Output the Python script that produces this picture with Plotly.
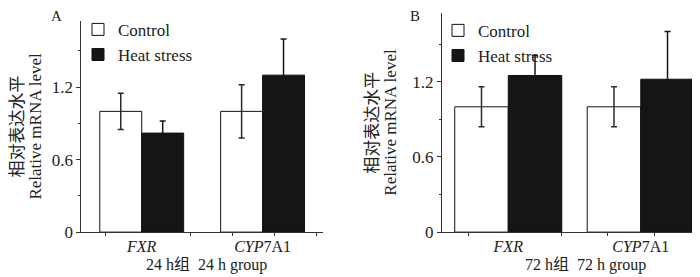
import plotly.graph_objects as go

categories = ["FXR", "CYP7A1"]
tick_text = ["<i>FXR</i>", "<i>CYP</i>7A1"]
series_names = ["Control", "Heat stress"]

# Panel A (24 h)
a_control = [1.00, 1.00]
a_control_err = [0.15, 0.22]
a_heat = [0.82, 1.30]
a_heat_err = [0.10, 0.30]

# Panel B (72 h)
b_control = [1.00, 1.00]
b_control_err = [0.16, 0.16]
b_heat = [1.25, 1.22]
b_heat_err = [0.16, 0.38]

y_ticks = [0, 0.6, 1.2]
x_title_a = "24 h组\u00a0 24 h group"
x_title_b = "72 h组\u00a0 72 h group"
y_title_cn = "相对表达水平"
y_title_en = "Relative mRNA level"

FONT = "Liberation Serif, Times New Roman, Noto Sans CJK SC, serif"
FS = 17
FSX = 16
W, H = 700, 277
xpos = list(range(len(categories)))

fig = go.Figure()

def add_panel(ctrl, ctrl_err, heat, heat_err, bw, xa, ya, legend):
    fig.add_trace(go.Bar(
        x=xpos, y=ctrl, name=series_names[0], width=bw, offset=-bw,
        marker=dict(color="white", line=dict(color="#111", width=1)),
        error_y=dict(type="data", array=ctrl_err, color="#2a2a2a", thickness=1.5, width=3),
        xaxis=xa, yaxis=ya, legend=legend))
    fig.add_trace(go.Bar(
        x=xpos, y=heat, name=series_names[1], width=bw, offset=0,
        marker=dict(color="#151515", line=dict(color="#111", width=1)),
        error_y=dict(type="data", array=heat_err, color="#161616", thickness=1.5, width=3),
        xaxis=xa, yaxis=ya, legend=legend))

add_panel(a_control, a_control_err, a_heat, a_heat_err, 0.347, "x", "y", "legend")
add_panel(b_control, b_control_err, b_heat, b_heat_err, 0.404, "x2", "y2", "legend2")

def px_x(p):
    return p / W

def px_y(p):
    return 1 - p / H

xcommon = dict(
    range=[-0.5, 1.5], showline=True, linecolor="#333", linewidth=1,
    tickmode="array", tickvals=xpos, ticktext=tick_text, ticks="",
    showgrid=False, zeroline=False, fixedrange=True,
    tickfont=dict(size=FSX, color="#222", family=FONT),
    minor=dict(tickmode="array", tickvals=[-0.3, 0.4, 0.75, 1.1, 1.45],
               ticks="outside", ticklen=3, tickcolor="#333", showgrid=False),
    ticklabelstandoff=0,
)
ycommon = dict(
    range=[0, 1.75], showline=True, linecolor="#333", linewidth=1,
    tickmode="array", tickvals=y_ticks, ticktext=["0", "0.6", "1.2"],
    ticks="outside", ticklen=4, tickcolor="#333",
    minor=dict(tickmode="array", tickvals=[0.3, 0.9, 1.5], ticks="outside",
               ticklen=2, tickcolor="#333", showgrid=False),
    showgrid=False, zeroline=False,
    tickfont=dict(size=FS, color="#222", family=FONT),
)

fig.update_layout(
    width=W, height=H,
    margin=dict(l=0, r=0, t=0, b=0),
    paper_bgcolor="white", plot_bgcolor="white",
    barmode="overlay",
    font=dict(family=FONT, size=FS, color="#222"),
    xaxis=dict(domain=[px_x(73.3), px_x(315)], anchor="y", **xcommon),
    yaxis=dict(domain=[px_y(232.5), px_y(13.3)], anchor="x", **ycommon),
    xaxis2=dict(domain=[px_x(434), px_x(699)], anchor="y2", **xcommon),
    yaxis2=dict(domain=[px_y(232.5), px_y(5)], anchor="x2", **ycommon),
    legend=dict(x=px_x(70), y=px_y(4), xanchor="left", yanchor="top",
                bgcolor="rgba(0,0,0,0)", font=dict(size=FS, color="#222"),
                tracegroupgap=0),
    legend2=dict(x=px_x(430), y=px_y(5), xanchor="left", yanchor="top",
                 bgcolor="rgba(0,0,0,0)", font=dict(size=FS, color="#222"),
                 tracegroupgap=0),
    showlegend=True,
)

annots = [
    dict(text="A", x=px_x(48), y=px_y(8), size=15),
    dict(text="B", x=px_x(407), y=px_y(8), size=15),
    dict(text=y_title_cn, x=px_x(10), y=px_y(123), textangle=-90, size=17),
    dict(text=y_title_en, x=px_x(28), y=px_y(123), textangle=-90, size=FS),
    dict(text=y_title_cn, x=px_x(365), y=px_y(119), textangle=-90, size=17),
    dict(text=y_title_en, x=px_x(383), y=px_y(119), textangle=-90, size=FS),
    dict(text=x_title_a, x=px_x(198), y=px_y(267), size=FSX),
    dict(text=x_title_b, x=px_x(577), y=px_y(267), size=FSX),
]
for a in annots:
    size = a.pop("size")
    fig.add_annotation(xref="paper", yref="paper", showarrow=False,
                       xanchor="center", yanchor="middle",
                       font=dict(size=size, color="#222", family=FONT), **a)

fig.write_html("out.html")
